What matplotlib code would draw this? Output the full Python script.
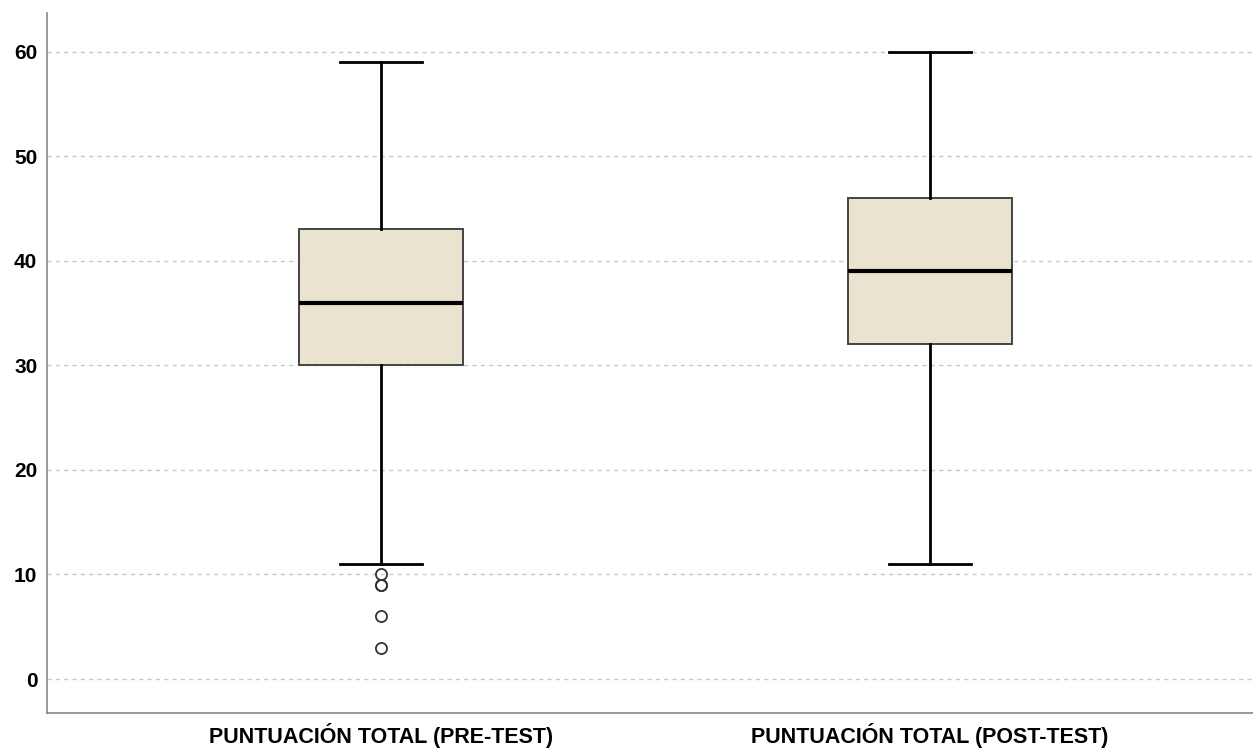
import matplotlib.pyplot as plt

# box plot of total scores, pre-test vs post-test
labels = ['PUNTUACIÓN TOTAL (PRE-TEST)', 'PUNTUACIÓN TOTAL (POST-TEST)']
whislo = [11, 11]
q1 = [30, 32]
med = [36, 39]
q3 = [43, 46]
whishi = [59, 60]
fliers = [[10, 9, 9, 6, 3], []]

stats = []
for i in range(len(labels)):
    stats.append({'label': labels[i], 'whislo': whislo[i], 'q1': q1[i], 'med': med[i],
                  'q3': q3[i], 'whishi': whishi[i], 'fliers': fliers[i]})

plt.rcParams['font.family'] = ['Liberation Sans', 'DejaVu Sans']

fig = plt.figure(figsize=(12.53, 7.49), dpi=100)
ax = fig.add_axes([47 / 1253, 1 - 713 / 749, 1206 / 1253, 700 / 749])

ax.bxp(stats, positions=[1, 2], widths=0.30, capwidths=0.148, patch_artist=True,
       boxprops=dict(facecolor='#EAE3CF', edgecolor='#444444', linewidth=1.4),
       medianprops=dict(color='black', linewidth=3),
       whiskerprops=dict(color='black', linewidth=2),
       capprops=dict(color='black', linewidth=2),
       flierprops=dict(marker='o', markersize=8, markerfacecolor='none',
                       markeredgecolor='#333333', markeredgewidth=1.3),
       zorder=3)

ax.set_xlim(0.392, 2.588)
ax.set_ylim(-3.25, 63.7)
ax.set_yticks(range(0, 61, 10))
ax.yaxis.grid(True, linestyle=(0, (3, 3)), color='#c8c8c8', linewidth=1)
ax.set_axisbelow(True)

for s in ['top', 'right']:
    ax.spines[s].set_visible(False)
for s in ['left', 'bottom']:
    ax.spines[s].set_color('#888888')
    ax.spines[s].set_linewidth(1.2)

ax.tick_params(axis='both', length=0)
ax.tick_params(axis='y', labelsize=15, pad=7)
ax.tick_params(axis='x', labelsize=15.5, pad=7)
for t in ax.get_yticklabels() + ax.get_xticklabels():
    t.set_fontweight('bold')

plt.savefig('out.png')
